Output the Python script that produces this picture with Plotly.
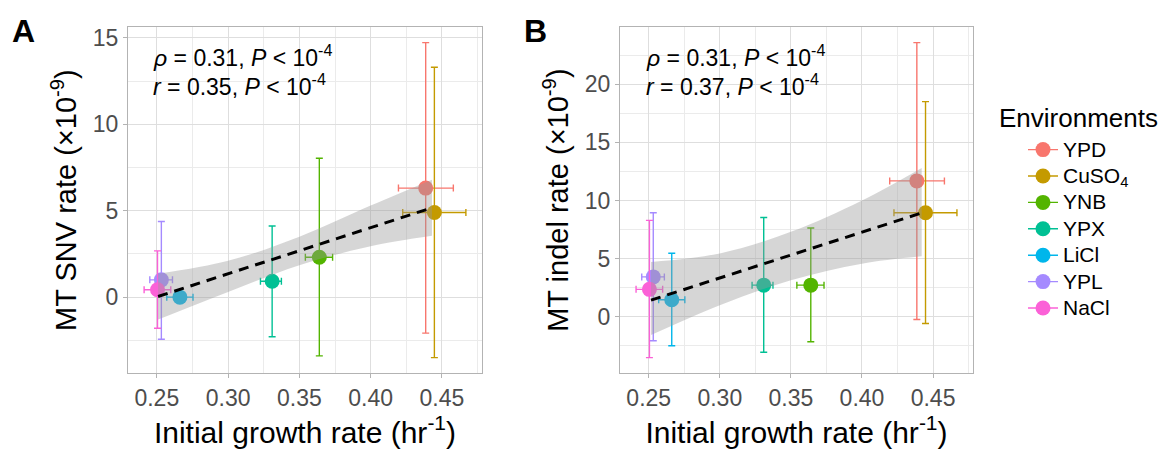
import plotly.graph_objects as go

# ---------------- data ----------------
envs = ["YPD", "CuSO<sub>4</sub>", "YNB", "YPX", "LiCl", "YPL", "NaCl"]
colors = ["#F8766D", "#C49A00", "#53B400", "#00C094", "#00B6EB", "#A58AFF", "#FB61D7"]

growth = [0.4386, 0.4447, 0.3640, 0.3309, 0.2662, 0.2532, 0.2505]
growth_lo = [0.4195, 0.4225, 0.3542, 0.3227, 0.2570, 0.2451, 0.2411]
growth_hi = [0.4580, 0.4668, 0.3733, 0.3374, 0.2754, 0.2610, 0.2598]

snv = [6.31, 4.90, 2.31, 0.92, 0.00, 1.00, 0.43]
snv_lo = [-2.08, -3.50, -3.40, -2.29, 0.00, -2.44, -1.80]
snv_hi = [14.73, 13.30, 8.04, 4.12, 0.00, 4.38, 2.68]

indel = [11.68, 8.94, 2.72, 2.72, 1.46, 3.43, 2.36]
indel_lo = [-0.23, -0.57, -2.14, -3.05, -2.49, -2.06, -3.51]
indel_hi = [23.57, 18.50, 7.63, 8.54, 5.46, 8.95, 8.29]

fitA_x = [0.2509, 0.4430]
fitA_y = [0.04, 5.17]
bandA_x = [0.2509, 0.30, 0.35, 0.40, 0.4430]
bandA_hi = [1.35, 2.10, 3.50, 5.30, 6.80]
bandA_lo = [-1.30, 0.30, 1.85, 2.95, 3.55]

fitB_x = [0.2516, 0.4420]
fitB_y = [1.43, 8.93]
bandB_x = [0.2516, 0.30, 0.35, 0.40, 0.4420]
bandB_hi = [4.71, 5.45, 7.30, 10.00, 12.80]
bandB_lo = [-1.57, 1.00, 3.14, 4.57, 5.20]

statsA = ["<i>ρ</i> = 0.31, <i>P</i> &lt; 10<sup>-4</sup>", "<i>r</i> = 0.35, <i>P</i> &lt; 10<sup>-4</sup>"]
statsB = ["<i>ρ</i> = 0.31, <i>P</i> &lt; 10<sup>-4</sup>", "<i>r</i> = 0.37, <i>P</i> &lt; 10<sup>-4</sup>"]

FONT = "Liberation Sans, Arial, sans-serif"
W, H = 1176, 449

fig = go.Figure()


def add_panel(xa, ya, yvals, ylo, yhi, fx, fy, bx, bhi, blo, showleg):
    for i, env in enumerate(envs):
        fig.add_trace(go.Scatter(
            x=[growth[i]], y=[yvals[i]],
            mode="lines+markers",
            name=f'<span style="font-size:21px">{env}</span>',
            legendgroup=env,
            showlegend=showleg,
            marker=dict(color=colors[i], size=15),
            line=dict(color=colors[i], width=1.4),
            error_y=dict(type="data", symmetric=False,
                         array=[yhi[i] - yvals[i]], arrayminus=[yvals[i] - ylo[i]],
                         color=colors[i], thickness=1.4, width=3.5),
            error_x=dict(type="data", symmetric=False,
                         array=[growth_hi[i] - growth[i]], arrayminus=[growth[i] - growth_lo[i]],
                         color=colors[i], thickness=1.4, width=3.5),
            xaxis=xa, yaxis=ya, hoverinfo="skip",
        ))
    # confidence band (drawn over the points, as in ggplot)
    fig.add_trace(go.Scatter(x=bx, y=blo, mode="lines", line=dict(width=0, shape="spline"),
                             showlegend=False, xaxis=xa, yaxis=ya, hoverinfo="skip"))
    fig.add_trace(go.Scatter(x=bx, y=bhi, mode="lines", line=dict(width=0, shape="spline"),
                             fill="tonexty", fillcolor="rgba(153,153,153,0.4)",
                             showlegend=False, xaxis=xa, yaxis=ya, hoverinfo="skip"))
    fig.add_trace(go.Scatter(x=fx, y=fy, mode="lines",
                             line=dict(color="black", width=3, dash="10px,7px"),
                             showlegend=False, xaxis=xa, yaxis=ya, hoverinfo="skip"))


add_panel("x", "y", snv, snv_lo, snv_hi, fitA_x, fitA_y, bandA_x, bandA_hi, bandA_lo, True)
add_panel("x2", "y2", indel, indel_lo, indel_hi, fitB_x, fitB_y, bandB_x, bandB_hi, bandB_lo, False)

grid = "#DEDEDE"
minor_grid = "#EBEBEB"
border = "#B3B3B3"


def xax(domain):
    return dict(domain=domain, range=[0.2298, 0.4781], tickvals=[0.25, 0.30, 0.35, 0.40, 0.45],
                ticktext=["0.25", "0.30", "0.35", "0.40", "0.45"],
                showgrid=True, gridcolor=grid, gridwidth=1,
                minor=dict(tickvals=[0.275, 0.325, 0.375, 0.425, 0.475], showgrid=True,
                           gridcolor=minor_grid, gridwidth=0.8, ticks=""),
                showline=True, linecolor=border, linewidth=1, mirror=True,
                ticks="outside", ticklen=4, tickcolor=border, tickwidth=1,
                tickfont=dict(family=FONT, size=23, color="#4D4D4D"),
                zeroline=False,
                title=dict(text="Initial growth rate (hr<sup>-1</sup>)",
                           font=dict(family=FONT, size=30, color="black"), standoff=4))


def yax(domain, rng, ticks, minors, title, anchor):
    return dict(domain=domain, range=rng, tickvals=ticks, ticktext=[str(t) for t in ticks],
                showgrid=True, gridcolor=grid, gridwidth=1,
                minor=dict(tickvals=minors, showgrid=True, gridcolor=minor_grid, gridwidth=0.8, ticks=""),
                showline=True, linecolor=border, linewidth=1, mirror=True,
                ticks="outside", ticklen=4, tickcolor=border, tickwidth=1,
                tickfont=dict(family=FONT, size=23, color="#4D4D4D"),
                zeroline=False, anchor=anchor,
                title=dict(text=title, font=dict(family=FONT, size=29, color="black"), standoff=7))


ydom = [1 - 373 / H, 1 - 25 / H]
fig.update_layout(
    width=W, height=H,
    margin=dict(l=0, r=0, t=0, b=0),
    paper_bgcolor="white", plot_bgcolor="white",
    font=dict(family=FONT),
    xaxis=dict(**xax([128 / W, 482 / W]), anchor="y"),
    yaxis=yax(ydom, [-4.41, 15.64], [0, 5, 10, 15], [-2.5, 2.5, 7.5, 12.5],
              "MT SNV rate (×10<sup>-9</sup>)", "x"),
    xaxis2=dict(**xax([620 / W, 973 / W]), anchor="y2"),
    yaxis2=yax(ydom, [-4.86, 24.92], [0, 5, 10, 15, 20], [-2.5, 2.5, 7.5, 12.5, 17.5, 22.5],
               "MT indel rate (×10<sup>-9</sup>)", "x2"),
    legend=dict(x=1023 / W, xanchor="left", y=1 - 130 / H, yanchor="top",
                font=dict(family=FONT, size=18, color="black"),
                bgcolor="rgba(0,0,0,0)", tracegroupgap=0),
    showlegend=True,
)

ann = []
for xs, lines in ((151 / W, statsA), (644 / W, statsB)):
    for k, (txt, yy) in enumerate(zip(lines, [54, 83])):
        ann.append(dict(text=txt, x=xs, y=1 - yy / H, xref="paper", yref="paper",
                        xanchor="left", yanchor="middle", showarrow=False,
                        font=dict(family=FONT, size=23, color="black")))
ann.append(dict(text="<b>A</b>", x=24 / W, y=1 - 29 / H, xref="paper", yref="paper",
                xanchor="center", yanchor="middle", showarrow=False,
                font=dict(family=FONT, size=32, color="black")))
ann.append(dict(text="<b>B</b>", x=535 / W, y=1 - 29 / H, xref="paper", yref="paper",
                xanchor="center", yanchor="middle", showarrow=False,
                font=dict(family=FONT, size=32, color="black")))
ann.append(dict(text="Environments", x=997 / W, y=1 - 117 / H, xref="paper", yref="paper",
                xanchor="left", yanchor="middle", showarrow=False,
                font=dict(family=FONT, size=26, color="black")))
fig.update_layout(annotations=ann)

fig.write_html(
    "out.html",
    config={"displayModeBar": False},
    post_script="document.body.style.margin='0';document.body.style.padding='0';"
                "document.documentElement.style.overflow='hidden';",
)
